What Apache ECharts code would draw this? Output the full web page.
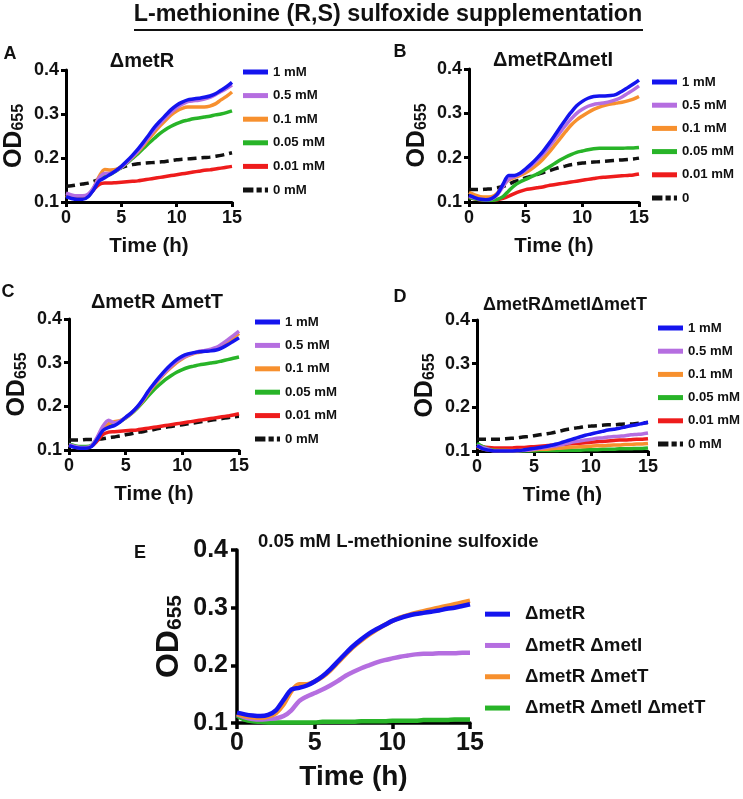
<!DOCTYPE html>
<html><head><meta charset="utf-8">
<script src="https://cdn.jsdelivr.net/npm/echarts@6/dist/echarts.min.js"></script>
<style>html,body{margin:0;padding:0;background:#fff}#c{width:743px;height:799px}</style>
</head><body><div id="c"></div>
<script>
const hours = [0,0.5,1,1.5,2,2.5,3,3.5,4,4.5,5,5.5,6,6.5,7,7.5,8,8.5,9,9.5,10,10.5,11,11.5,12,12.5,13,13.5,14,14.5,15];
const yTicks = [0.1,0.2,0.3,0.4];
const xTicks = [0,5,10,15];
const concNames = ['1 mM','0.5 mM','0.1 mM','0.05 mM','0.01 mM','0 mM'];
const concNamesB = ['1 mM','0.5 mM','0.1 mM','0.05 mM','0.01 mM','0'];
const strainNames = ['\u0394metR','\u0394metR \u0394metI','\u0394metR \u0394metT','\u0394metR \u0394metI \u0394metT'];
const panelTitles = ['\u0394metR','\u0394metR\u0394metI','\u0394metR \u0394metT','\u0394metR\u0394metI\u0394metT','0.05 mM L-methionine sulfoxide'];
const panelLetters = ['A','B','C','D','E'];
const mainTitle = 'L-methionine (R,S) sulfoxide supplementation';

// Panel A: ΔmetR
const A_1mM  = [.112,.108,.106,.106,.112,.128,.148,.155,.163,.171,.181,.193,.206,.220,.236,.253,.270,.284,.297,.310,.320,.327,.332,.334,.336,.338,.341,.346,.354,.362,.372];
const A_05mM = [.120,.116,.114,.114,.118,.133,.155,.165,.165,.171,.179,.190,.203,.216,.232,.249,.265,.279,.292,.304,.314,.322,.328,.330,.331,.334,.338,.344,.351,.358,.366];
const A_01mM = [.116,.112,.110,.110,.115,.132,.158,.174,.173,.174,.180,.190,.202,.214,.228,.244,.259,.273,.286,.298,.307,.313,.316,.316,.316,.316,.318,.323,.332,.340,.350];
const A_005mM= [.114,.110,.108,.108,.113,.130,.153,.160,.163,.170,.178,.188,.199,.210,.222,.234,.245,.256,.265,.272,.278,.283,.286,.289,.291,.293,.295,.298,.300,.303,.307];
const A_001mM= [.115,.111,.109,.109,.114,.128,.140,.143,.143,.144,.145,.146,.147,.148,.150,.152,.154,.156,.158,.160,.162,.164,.166,.168,.170,.172,.173,.175,.177,.179,.181];
const A_0mM  = [.136,.137,.139,.141,.143,.147,.152,.158,.165,.172,.178,.182,.185,.187,.188,.189,.190,.191,.192,.194,.196,.197,.198,.199,.200,.201,.202,.204,.206,.209,.212];
// Panel B: ΔmetRΔmetI
const B_1mM  = [.115,.110,.106,.105,.108,.118,.140,.160,.160,.165,.175,.186,.199,.213,.230,.248,.267,.285,.302,.317,.327,.334,.338,.339,.339,.340,.343,.350,.358,.366,.375];
const B_05mM = [.113,.109,.106,.105,.107,.116,.135,.152,.157,.163,.172,.182,.194,.207,.222,.239,.256,.272,.287,.300,.309,.316,.320,.322,.324,.327,.331,.337,.345,.353,.362];
const B_01mM = [.122,.116,.112,.111,.112,.120,.137,.150,.155,.160,.166,.174,.184,.196,.210,.226,.242,.258,.273,.285,.294,.302,.309,.314,.318,.321,.323,.325,.328,.332,.338];
const B_005mM= [.110,.107,.105,.104,.104,.106,.112,.125,.137,.145,.151,.157,.163,.170,.178,.186,.194,.201,.207,.212,.215,.218,.220,.221,.221,.221,.221,.221,.222,.222,.223];
const B_001mM= [.111,.107,.105,.104,.104,.105,.108,.113,.119,.124,.128,.130,.132,.134,.137,.139,.141,.143,.145,.147,.149,.151,.153,.155,.156,.157,.158,.159,.160,.161,.163];
const B_0mM  = [.128,.128,.128,.129,.130,.132,.135,.140,.146,.150,.155,.158,.162,.166,.170,.174,.178,.181,.184,.186,.188,.189,.190,.191,.192,.193,.194,.195,.196,.197,.199];
// Panel C: ΔmetR ΔmetT
const C_1mM  = [.110,.106,.104,.104,.108,.125,.145,.152,.156,.164,.175,.185,.198,.215,.235,.252,.268,.283,.296,.307,.315,.320,.323,.325,.326,.327,.329,.334,.341,.349,.357];
const C_05mM = [.112,.108,.106,.106,.110,.130,.155,.168,.162,.166,.174,.185,.198,.214,.233,.250,.265,.279,.292,.303,.311,.317,.322,.326,.328,.331,.335,.343,.352,.362,.372];
const C_01mM = [.111,.107,.105,.105,.109,.127,.150,.160,.165,.167,.174,.184,.197,.212,.231,.248,.263,.277,.289,.300,.309,.316,.321,.324,.327,.329,.332,.339,.348,.357,.367];
const C_005mM= [.113,.110,.108,.108,.111,.127,.148,.154,.158,.165,.173,.183,.195,.209,.224,.238,.250,.261,.270,.278,.284,.289,.292,.295,.297,.299,.301,.304,.307,.310,.313];
const C_001mM= [.112,.108,.106,.106,.109,.121,.136,.141,.142,.143,.144,.145,.146,.148,.150,.152,.154,.156,.158,.160,.162,.164,.166,.168,.170,.172,.174,.176,.178,.180,.183];
const C_0mM  = [.123,.123,.123,.124,.124,.125,.126,.128,.130,.132,.135,.137,.140,.142,.145,.147,.150,.152,.154,.156,.158,.160,.162,.164,.166,.168,.170,.172,.174,.176,.177];
// Panel D: ΔmetRΔmetIΔmetT
const D_1mM  = [.112,.105,.102,.100,.100,.100,.100,.101,.102,.104,.106,.108,.110,.113,.116,.120,.124,.128,.132,.136,.139,.142,.145,.148,.150,.152,.155,.158,.160,.163,.166];
const D_05mM = [.113,.108,.104,.100,.100,.100,.100,.100,.101,.102,.104,.106,.108,.110,.112,.115,.118,.121,.123,.125,.127,.129,.130,.132,.133,.134,.135,.137,.138,.139,.141];
const D_01mM = [.110,.105,.102,.101,.101,.101,.101,.101,.102,.102,.103,.104,.104,.105,.106,.107,.108,.109,.110,.110,.111,.112,.112,.113,.114,.114,.115,.115,.116,.116,.117];
const D_005mM= [.118,.110,.104,.102,.101,.101,.100,.100,.100,.100,.100,.101,.101,.101,.101,.102,.102,.102,.102,.103,.103,.103,.104,.104,.104,.105,.105,.105,.106,.106,.107];
const D_001mM= [.113,.110,.108,.107,.107,.107,.107,.108,.108,.109,.110,.111,.112,.113,.114,.115,.116,.117,.118,.119,.120,.121,.122,.123,.124,.125,.125,.126,.127,.127,.128];
const D_0mM  = [.127,.127,.127,.127,.127,.128,.129,.130,.132,.133,.135,.137,.139,.141,.144,.147,.150,.152,.154,.156,.157,.158,.159,.160,.160,.161,.162,.162,.163,.164,.165];
// Panel E: 0.05 mM, strains
const E_R    = [.118,.115,.113,.112,.114,.122,.140,.158,.161,.165,.172,.181,.193,.207,.221,.234,.245,.255,.263,.270,.277,.282,.286,.289,.291,.293,.295,.298,.300,.303,.306];
const E_RI   = [.115,.110,.107,.106,.107,.108,.112,.122,.138,.146,.152,.158,.165,.173,.182,.189,.195,.200,.205,.209,.212,.215,.217,.219,.220,.220,.221,.221,.221,.222,.222];
const E_RT   = [.116,.112,.110,.109,.111,.117,.132,.155,.167,.167,.172,.180,.191,.205,.219,.232,.243,.253,.262,.270,.277,.283,.287,.291,.294,.297,.300,.303,.306,.309,.312];
const E_RIT  = [.113,.106,.103,.102,.101,.101,.101,.101,.101,.101,.101,.102,.102,.102,.102,.102,.103,.103,.103,.103,.104,.104,.104,.104,.105,.105,.105,.105,.106,.106,.106];

const FONT = "'Liberation Sans', Arial, Helvetica, sans-serif";
const COL = {blue:'#1414ee', purple:'#b56ee0', orange:'#f7902e', green:'#28b428', red:'#ee1c1c', black:'#111111'};
const DASH_ICON = 'path://M0,0h10v5h-10z M13,0h5v5h-5z M21,0h3v5h-3z';

// legend: first item centre y, row step
const panels = [
  {grid:{left:62, top:70, width:170, height:132}, names:concNames,
   data:[A_1mM,A_05mM,A_01mM,A_005mM,A_001mM,A_0mM], small:true,
   legend:{left:243, cy:72, step:23.6}},
  {grid:{left:469, top:69, width:170, height:133}, names:concNamesB,
   data:[B_1mM,B_05mM,B_01mM,B_005mM,B_001mM,B_0mM], small:true,
   legend:{left:652, cy:82, step:23.2}},
  {grid:{left:69, top:319, width:170, height:131}, names:concNames,
   data:[C_1mM,C_05mM,C_01mM,C_005mM,C_001mM,C_0mM], small:true,
   legend:{left:255, cy:322, step:23.4}},
  {grid:{left:477, top:320, width:171, height:131}, names:concNames,
   data:[D_1mM,D_05mM,D_01mM,D_005mM,D_001mM,D_0mM], small:true,
   legend:{left:658, cy:328, step:23.2}},
  {grid:{left:237, top:550, width:233, height:173}, names:strainNames,
   data:[E_R,E_RI,E_RT,E_RIT], small:false,
   legend:{left:485, cy:614, step:31}}
];
const concColors = [COL.blue, COL.purple, COL.orange, COL.green, COL.red, COL.black];
const strainColors = [COL.blue, COL.purple, COL.orange, COL.green];
// draw order (bottom to top)
const concOrder = [5,4,3,2,1,0];
const strainOrder = [3,1,2,0];

const grids=[], xAxes=[], yAxes=[], series=[], legends=[];
panels.forEach((p, pi) => {
  const s = p.small;
  grids.push(Object.assign({containLabel:false}, p.grid));
  const tickFs = s ? 18 : 25;
  xAxes.push({type:'value', gridIndex:pi, min:0, max:15, interval:5,
    name:'Time (h)', nameLocation:'middle', nameGap: s ? 34 : 40,
    nameTextStyle:{fontFamily:FONT, fontWeight:'bold', fontSize: s ? 20.5 : 28, color:'#111'},
    axisLine:{show:true, onZero:false, lineStyle:{color:'#000', width: s ? 3 : 3.5}},
    axisTick:{show:true, length: s ? 5 : 6, lineStyle:{color:'#000', width: s ? 3 : 3.5}},
    axisLabel:{fontFamily:FONT, fontWeight:'bold', fontSize:tickFs, color:'#111', margin: s ? 7 : 8},
    splitLine:{show:false}});
  yAxes.push({type:'value', gridIndex:pi, min:0.1, max:0.4, interval:0.1,
    name: '{a|OD}{b|655}', nameLocation:'middle', nameGap: s ? 38 : 50,
    nameTextStyle:{rich:{
      a:{fontFamily:FONT, fontWeight:'bold', fontSize: s ? 25 : 32, lineHeight: s ? 28 : 36, color:'#111'},
      b:{fontFamily:FONT, fontWeight:'bold', fontSize: s ? 16 : 21, lineHeight: s ? 16 : 21, padding:[s ? 10 : 13,0,0,0], color:'#111'}}},
    axisLine:{show:true, onZero:false, lineStyle:{color:'#000', width: s ? 3 : 3.5}},
    axisTick:{show:true, length: s ? 5 : 6, lineStyle:{color:'#000', width: s ? 3 : 3.5}},
    axisLabel:{fontFamily:FONT, fontWeight:'bold', fontSize:tickFs, color:'#111', margin: s ? 7 : 9,
      formatter: v => v.toFixed(1)},
    splitLine:{show:false}});
  const colors = s ? concColors : strainColors;
  const order = s ? concOrder : strainOrder;
  order.forEach(k => {
    const dashed = s && k === 5;
    series.push({type:'line', name:p.names[k], xAxisIndex:pi, yAxisIndex:pi,
      data: hours.map((h,i) => [h, p.data[k][i]]),
      symbol:'none', showSymbol:false, smooth:0.3, clip:true,
      lineStyle:{color:colors[k], width: s ? 3.5 : 4.5, type: dashed ? [9,5] : 'solid', cap:'butt'},
      itemStyle:{color:colors[k]}, z: 2, silent:true});
  });
  const fs = s ? 13.2 : 18.7;
  legends.push({orient:'vertical', left:p.legend.left, top:p.legend.cy - fs/2, padding:0,
    itemWidth: 25, itemHeight: 5, itemGap: p.legend.step - fs,
    symbolKeepAspect:false,
    data: p.names.map((n,k) => ({name:n, icon: (s && k === 5) ? DASH_ICON : 'rect'})),
    selectedMode:false,
    textStyle:{fontFamily:FONT, fontWeight:'bold', fontSize: fs, lineHeight: fs, color:'#111',
      padding: s ? 0 : [0,0,0,10]}});
});

const letters = [[10,54],[400,52],[8,292],[400,297],[140,553]];
const titlePos = [[142,61,20],[553,60,20],[157,302,20],[565,305,18]];
const graphic = [
  {type:'text', x:388, y:15, style:{text:mainTitle, font:'bold 23.3px ' + FONT, fill:'#111',
     align:'center', verticalAlign:'middle', textAlign:'center', textVerticalAlign:'middle'}},
  {type:'line', shape:{x1:134, y1:30, x2:643, y2:30}, style:{stroke:'#111', lineWidth:2}}
];
letters.forEach((L,i) => graphic.push({type:'text', x:L[0], y:L[1], style:{text:panelLetters[i],
  font:'bold 18px ' + FONT, fill:'#111', align:'center', verticalAlign:'middle', textAlign:'center', textVerticalAlign:'middle'}}));
titlePos.forEach((T,i) => graphic.push({type:'text', x:T[0], y:T[1], style:{text:panelTitles[i],
  font:'bold ' + T[2] + 'px ' + FONT, fill:'#111', align:'center', verticalAlign:'middle', textAlign:'center', textVerticalAlign:'middle'}}));
graphic.push({type:'text', x:258, y:542, style:{text:panelTitles[4], font:'bold 18.5px ' + FONT, fill:'#111',
  align:'left', verticalAlign:'middle', textAlign:'left', textVerticalAlign:'middle'}});

const chart = echarts.init(document.getElementById('c'), null, {renderer:'canvas'});
chart.setOption({animation:false, backgroundColor:'#fff', grid:grids, xAxis:xAxes, yAxis:yAxes,
  series:series, legend:legends, graphic:graphic});
</script></body></html>
